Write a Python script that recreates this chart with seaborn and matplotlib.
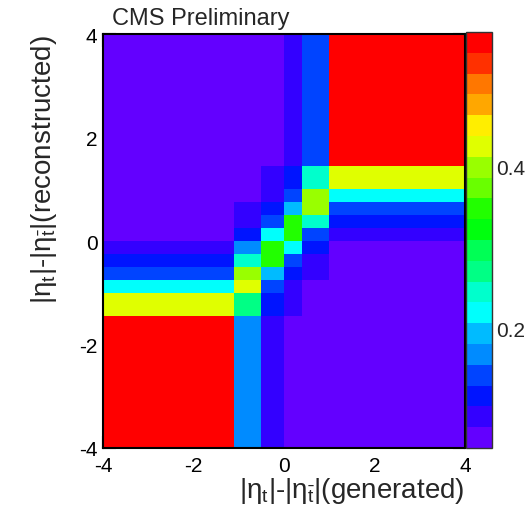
import colorsys
import matplotlib
matplotlib.use('Agg')
import matplotlib.pyplot as plt
from matplotlib.colors import ListedColormap
from matplotlib.ticker import MultipleLocator
import seaborn as sns
import numpy as np
import pandas as pd

sns.set_style('ticks')
plt.rcParams['font.family'] = ['Liberation Sans', 'DejaVu Sans']
plt.rcParams['mathtext.fontset'] = 'custom'
plt.rcParams['mathtext.rm'] = 'Liberation Sans'
plt.rcParams['mathtext.it'] = 'Liberation Sans'
plt.rcParams['mathtext.default'] = 'regular'
plt.rcParams['axes.unicode_minus'] = False

# bin edges of the migration matrix
x_edges = [-4.0, -1.1, -0.5, 0.0, 0.4, 1.0, 4.0]
y_edges = [-4.0, -1.45, -1.0, -0.75, -0.5, -0.25, 0.0, 0.25, 0.5, 0.75, 1.0, 1.45, 4.0]

# cell contents, one row per reconstructed bin (bottom row first)
row_m4 = [0.552, 0.168, 0.091, 0.066, 0.066, 0.066]
row_m145 = [0.424, 0.271, 0.117, 0.091, 0.066, 0.066]
row_m1 = [0.219, 0.424, 0.143, 0.091, 0.066, 0.066]
row_m075 = [0.143, 0.399, 0.194, 0.117, 0.091, 0.066]
row_m05 = [0.117, 0.245, 0.347, 0.143, 0.091, 0.066]
row_m025 = [0.091, 0.168, 0.347, 0.219, 0.117, 0.066]
row_0 = [0.066, 0.117, 0.219, 0.347, 0.143, 0.091]
row_025 = [0.066, 0.091, 0.143, 0.347, 0.245, 0.117]
row_05 = [0.066, 0.091, 0.117, 0.194, 0.399, 0.143]
row_075 = [0.066, 0.066, 0.091, 0.143, 0.399, 0.219]
row_1 = [0.066, 0.066, 0.091, 0.117, 0.245, 0.424]
row_145 = [0.066, 0.066, 0.066, 0.091, 0.143, 0.552]
rows = [row_m4, row_m145, row_m1, row_m075, row_m05, row_m025,
        row_0, row_025, row_05, row_075, row_1, row_145]

z_min, z_max = 0.053, 0.565
cbar_ticks = [0.2, 0.4]

# ROOT "pretty" palette, 20 contours
pretty = [colorsys.hls_to_rgb((280 - (i + 1) * 280 / 50) / 360, 0.5, 1) for i in range(50)]
cmap = ListedColormap([pretty[int((c + 0.99) * 50 / 20)] for c in range(20)])

xc = 0.5 * (np.array(x_edges[:-1]) + np.array(x_edges[1:]))
yc = 0.5 * (np.array(y_edges[:-1]) + np.array(y_edges[1:]))
recs = []
for j, row in enumerate(rows):
    for i, v in enumerate(row):
        recs.append((xc[i], yc[j], v))
df = pd.DataFrame(recs, columns=['gen', 'rec', 'w'])

fig = plt.figure(figsize=(5.25, 5.10), dpi=100)
ax = fig.add_axes([103 / 525, 61 / 510, 362 / 525, 414 / 510])
cax = fig.add_axes([466 / 525, 61 / 510, 26 / 525, 416 / 510])

sns.histplot(data=df, x='gen', y='rec', weights='w', bins=(x_edges, y_edges),
             cmap=cmap, vmin=z_min, vmax=z_max, cbar=True, cbar_ax=cax, ax=ax)

ax.set_xlim(-4, 4)
ax.set_ylim(-4, 4)
ax.xaxis.set_major_locator(MultipleLocator(2))
ax.yaxis.set_major_locator(MultipleLocator(2))
ax.xaxis.set_minor_locator(MultipleLocator(0.5))
ax.yaxis.set_minor_locator(MultipleLocator(0.5))
ax.tick_params(which='both', direction='in', top=True, right=True, width=1.5,
               colors='black', labelsize=15)
ax.tick_params(which='major', length=9)
ax.tick_params(which='minor', length=4.5)
ax.tick_params(axis='x', pad=6)
ax.tick_params(axis='y', pad=4)
for s in ax.spines.values():
    s.set_linewidth(1.5)
    s.set_color('black')

ax.set_xlabel(r'$|\eta_{t}|$-$|\eta_{\bar{t}}|$(generated)', fontsize=20, loc='right', labelpad=0)
ax.set_ylabel(r'$|\eta_{t}|$-$|\eta_{\bar{t}}|$(reconstructed)', fontsize=20, loc='top', labelpad=14)

cb = ax.collections[0].colorbar
cb.set_ticks(cbar_ticks)
cb.ax.minorticks_off()
cb.ax.tick_params(direction='in', length=11, width=1.5, labelsize=15, pad=3)
cb.outline.set_linewidth(1)
cb.outline.set_edgecolor('#333333')

fig.text(112 / 525, 1 - 25 / 510, 'CMS Preliminary', fontsize=17, va='baseline', ha='left')

fig.savefig('out.png', dpi=100)
